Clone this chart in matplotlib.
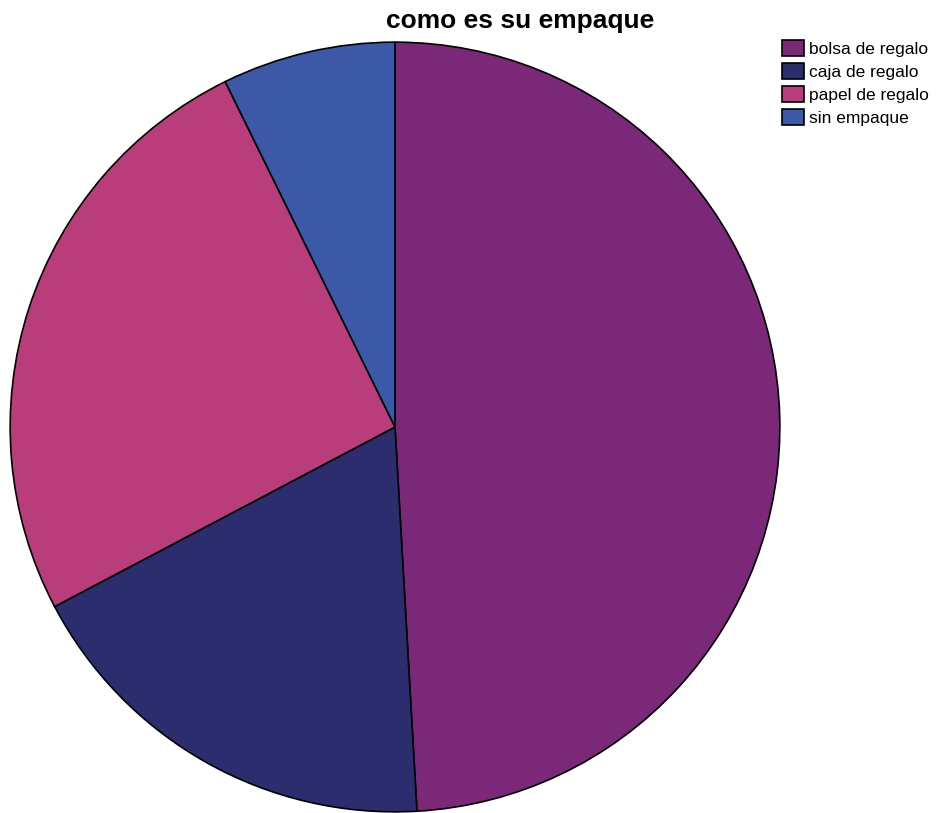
import matplotlib.pyplot as plt

plt.rcParams['font.family'] = ['Liberation Sans', 'DejaVu Sans']

labels = ['bolsa de regalo', 'caja de regalo', 'papel de regalo', 'sin empaque']
counts = [27, 10, 14, 4]
colors = ['#7B2879', '#2B2D6F', '#B93D7B', '#3B59A7']

fig = plt.figure(figsize=(9.36, 8.13), dpi=100)
W, H = 936, 813

# pie area in pixels: centre (395, 427), radius 386
cx, cy, r = 395, 427, 386
ax = fig.add_axes([(cx - r) / W, (H - cy - r) / H, 2 * r / W, 2 * r / H])
wedges, _ = ax.pie(counts, colors=colors, startangle=90, counterclock=False,
                   radius=1.0,
                   wedgeprops=dict(edgecolor='black', linewidth=1.2))
ax.set_xlim(-1.003, 1.003)
ax.set_ylim(-1.003, 1.003)
ax.set_aspect('equal')
ax.axis('off')

fig.text(520 / W, 1 - 21 / H, 'como es su empaque', ha='center', va='center',
         fontsize=19, fontweight='bold')

fig.legend(wedges, labels, loc='upper left',
           bbox_to_anchor=(782 / W, 1 - 40 / H),
           frameon=False, fontsize=12.5, handlelength=1.25, handleheight=1.05,
           handletextpad=0.3, labelspacing=0.35, borderpad=0, borderaxespad=0)

fig.savefig('out.png', dpi=100)
